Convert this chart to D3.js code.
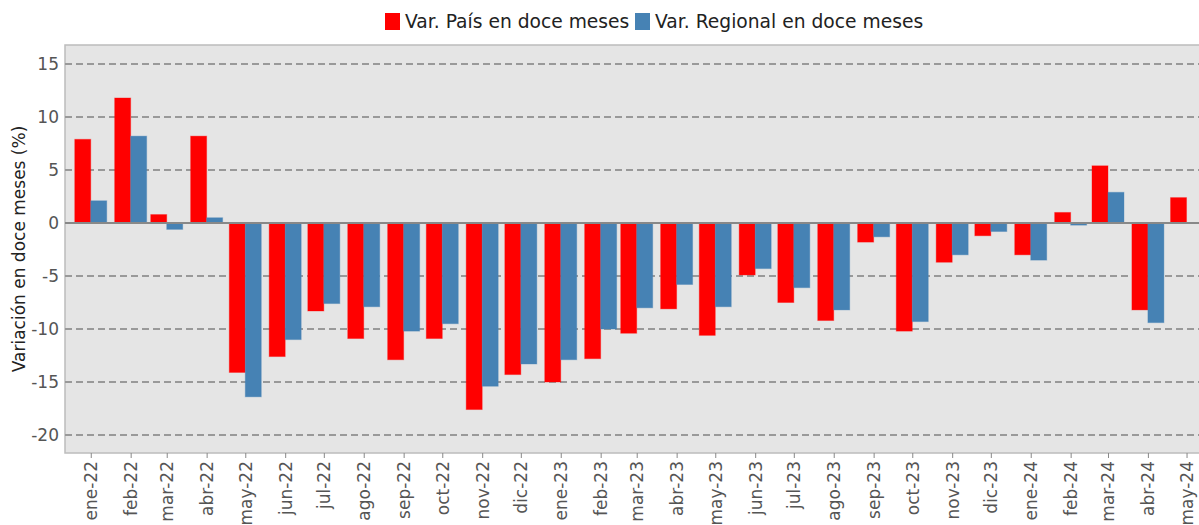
<!DOCTYPE html>
<html>
<head>
<meta charset="utf-8">
<script src="https://cdn.jsdelivr.net/npm/d3@7"></script>
<style>
  body { margin: 0; background: #fff; }
  svg { display: block; font-family: "DejaVu Sans", sans-serif; }
</style>
</head>
<body>
<div id="chart"></div>
<script>
// months (first day of each month) and their labels
let months = ["2022-01","2022-02","2022-03","2022-04","2022-05","2022-06","2022-07","2022-08","2022-09","2022-10","2022-11","2022-12",
              "2023-01","2023-02","2023-03","2023-04","2023-05","2023-06","2023-07","2023-08","2023-09","2023-10","2023-11","2023-12",
              "2024-01","2024-02","2024-03","2024-04","2024-05"];
let monthLabels = ["ene","feb","mar","abr","may","jun","jul","ago","sep","oct","nov","dic"];

// series values (%)
let varPais = [7.9, 11.8, 0.8, 8.2, -14.1, -12.6, -8.3, -10.9, -12.9, -10.9, -17.6, -14.3,
               -15.0, -12.8, -10.4, -8.1, -10.6, -4.9, -7.5, -9.2, -1.8, -10.2, -3.7, -1.2,
               -3.0, 1.0, 5.4, -8.2, 2.4];
let varRegional = [2.1, 8.2, -0.6, 0.5, -16.4, -11.0, -7.6, -7.9, -10.2, -9.5, -15.4, -13.3,
                   -12.9, -10.0, -8.0, -5.8, -7.9, -4.3, -6.1, -8.2, -1.3, -9.3, -3.0, -0.8,
                   -3.5, -0.2, 2.9, -9.4, null];

let yTicks = [15, 10, 5, 0, -5, -10, -15, -20];
let legendNames = ["Var. País en doce meses", "Var. Regional en doce meses"];
let colors = ["#ff0000", "#4682b4"];

function chart(width, height, selector) {

  let parseMonth = d3.timeParse("%Y-%m");
  let dates = months.map(parseMonth);

  // plot box
  let plot = { left: 65, right: 1211, top: 45, bottom: 453 };

  let x = d3.scaleTime()
    .domain([new Date(2021, 11, 12), new Date(2024, 4, 20)])
    .range([plot.left, plot.right]);

  let y = d3.scaleLinear()
    .domain([-21.7, 16.8])
    .range([plot.bottom, plot.top]);

  let barWidth = 16;

  let svg = d3.select(selector)
    .append("svg")
    .attr("width", width)
    .attr("height", height);

  // background
  svg.append("rect")
    .attr("x", plot.left)
    .attr("y", plot.top)
    .attr("width", plot.right - plot.left)
    .attr("height", plot.bottom - plot.top)
    .attr("fill", "#e5e5e5")
    .attr("stroke", "#bcbcbc")
    .attr("stroke-width", 1.5);

  // grid
  svg.append("g")
    .selectAll("line")
    .data(yTicks.filter(d => d !== 0))
    .join("line")
    .attr("x1", plot.left)
    .attr("x2", plot.right)
    .attr("y1", d => y(d))
    .attr("y2", d => y(d))
    .attr("stroke", "#999")
    .attr("stroke-width", 2)
    .attr("stroke-dasharray", "7,4");

  // bars
  let series = [varPais, varRegional];
  series.forEach((values, i) => {
    let data = values.map((v, j) => ({ date: dates[j], value: v }))
      .filter(d => d.value !== null);
    svg.append("g")
      .selectAll("rect")
      .data(data)
      .join("rect")
      .attr("x", d => x(d.date) - barWidth + i * barWidth)
      .attr("width", barWidth)
      .attr("y", d => y(Math.max(0, d.value)))
      .attr("height", d => Math.abs(y(d.value) - y(0)))
      .attr("fill", colors[i])
      .attr("stroke", colors[i])
      .attr("stroke-opacity", 0.35)
      .attr("stroke-width", 1);
  });

  // zero line
  svg.append("line")
    .attr("x1", plot.left)
    .attr("x2", plot.right)
    .attr("y1", y(0))
    .attr("y2", y(0))
    .attr("stroke", "#888")
    .attr("stroke-width", 2);

  // y axis labels
  svg.append("g")
    .selectAll("text")
    .data(yTicks)
    .join("text")
    .attr("x", plot.left - 6)
    .attr("y", d => y(d))
    .attr("dy", "0.35em")
    .attr("text-anchor", "end")
    .attr("font-size", 17)
    .attr("fill", "#555")
    .text(d => d);

  // x axis
  let xAxis = d3.axisBottom(x)
    .tickValues(dates)
    .tickSize(5)
    .tickFormat(d => monthLabels[d.getMonth()] + "-" + d3.timeFormat("%y")(d));

  let gx = svg.append("g")
    .attr("transform", `translate(0,${plot.bottom})`)
    .call(xAxis);
  gx.select(".domain").remove();
  gx.selectAll(".tick line").attr("stroke", "#888");
  gx.selectAll(".tick text")
    .attr("font-family", "DejaVu Sans")
    .attr("font-size", 17)
    .attr("fill", "#555")
    .attr("transform", "rotate(-90)")
    .attr("text-anchor", "end")
    .attr("x", -8)
    .attr("y", 0)
    .attr("dy", "0.35em");

  // y axis title
  svg.append("text")
    .attr("transform", `translate(25,${(plot.top + plot.bottom) / 2}) rotate(-90)`)
    .attr("text-anchor", "middle")
    .attr("font-size", 17)
    .attr("fill", "#222")
    .text("Variación en doce meses (%)");

  // legend
  let legend = svg.append("g").attr("font-size", 18.7).attr("fill", "#222");
  let lx = [385, 635];
  legendNames.forEach((name, i) => {
    legend.append("rect")
      .attr("x", lx[i])
      .attr("y", 13)
      .attr("width", 15)
      .attr("height", 17)
      .attr("fill", colors[i]);
    legend.append("text")
      .attr("x", lx[i] + 20)
      .attr("y", 28)
      .text(name);
  });
}

chart(1199, 525, "#chart");
</script>
</body>
</html>
